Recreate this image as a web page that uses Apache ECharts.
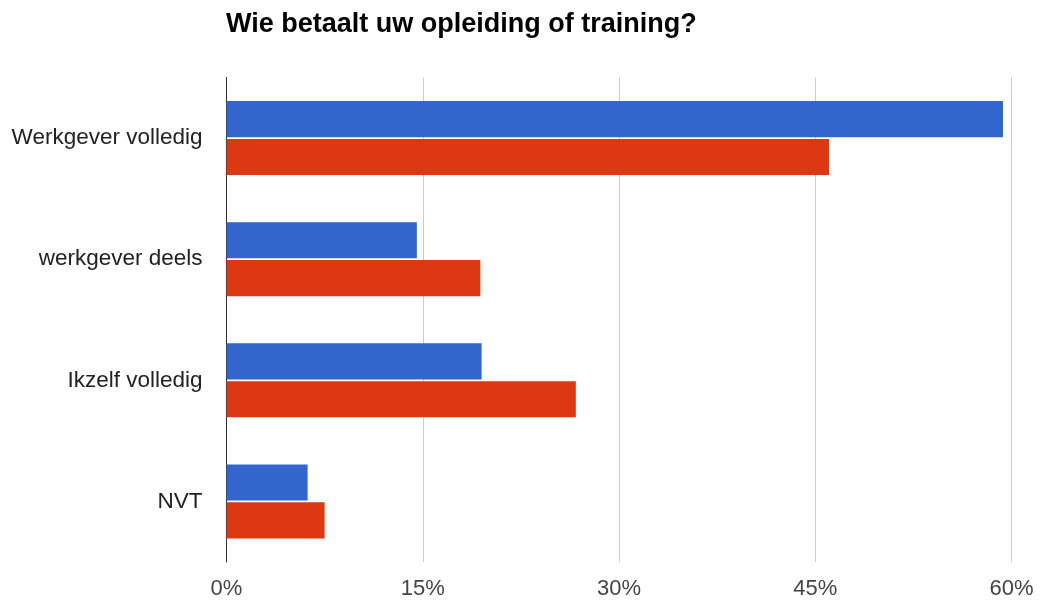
<!DOCTYPE html>
<html>
<head>
<meta charset="utf-8">
<script src="https://cdn.jsdelivr.net/npm/echarts@6/dist/echarts.min.js"></script>
<style>
  html, body { margin: 0; padding: 0; background: #fff; }
  #chart { width: 1040px; height: 600px; }
</style>
</head>
<body>
<div id="chart"></div>
<script>
// Answer categories, top to bottom
const categories = ['Werkgever volledig', 'werkgever deels', 'Ikzelf volledig', 'NVT'];
// Share of respondents (%) per answer, two groups
const blueValues = [59.35, 14.55, 19.5, 6.2];
const redValues = [46.05, 19.4, 26.7, 7.5];
// Value axis ticks (%)
const tickValues = [0, 15, 30, 45, 60];

const chart = echarts.init(document.getElementById('chart'), null, { renderer: 'canvas' });

chart.setOption({
  animation: false,
  backgroundColor: '#ffffff',
  title: {
    text: 'Wie betaalt uw opleiding of training?',
    left: 221,
    top: 6,
    textStyle: {
      fontFamily: 'Liberation Sans, Arial, sans-serif',
      fontWeight: 'bold',
      fontSize: 27,
      color: '#000000'
    }
  },
  grid: {
    left: 226.5,
    right: 28.5,
    top: 77.5,
    height: 485,
    containLabel: false
  },
  xAxis: {
    type: 'value',
    min: tickValues[0],
    max: tickValues[tickValues.length - 1],
    interval: tickValues[1] - tickValues[0],
    axisLine: { show: false },
    axisTick: { show: false },
    splitLine: { show: true, lineStyle: { color: '#cccccc', width: 1 } },
    axisLabel: {
      formatter: '{value}%',
      fontFamily: 'Liberation Sans, Arial, sans-serif',
      fontSize: 22,
      color: '#444444',
      margin: 16
    }
  },
  yAxis: {
    type: 'category',
    data: categories,
    inverse: true,
    axisLine: { show: true, lineStyle: { color: '#333333', width: 1 } },
    axisTick: { show: false },
    splitLine: { show: false },
    axisLabel: {
      fontFamily: 'Liberation Sans, Arial, sans-serif',
      fontSize: 22.5,
      color: '#222222',
      margin: 24
    }
  },
  series: [
    {
      type: 'bar',
      data: blueValues,
      itemStyle: { color: '#3366cc' },
      barGap: '5%',
      barCategoryGap: '39%'
    },
    {
      type: 'bar',
      data: redValues,
      itemStyle: { color: '#dc3912' }
    }
  ]
});
</script>
</body>
</html>
